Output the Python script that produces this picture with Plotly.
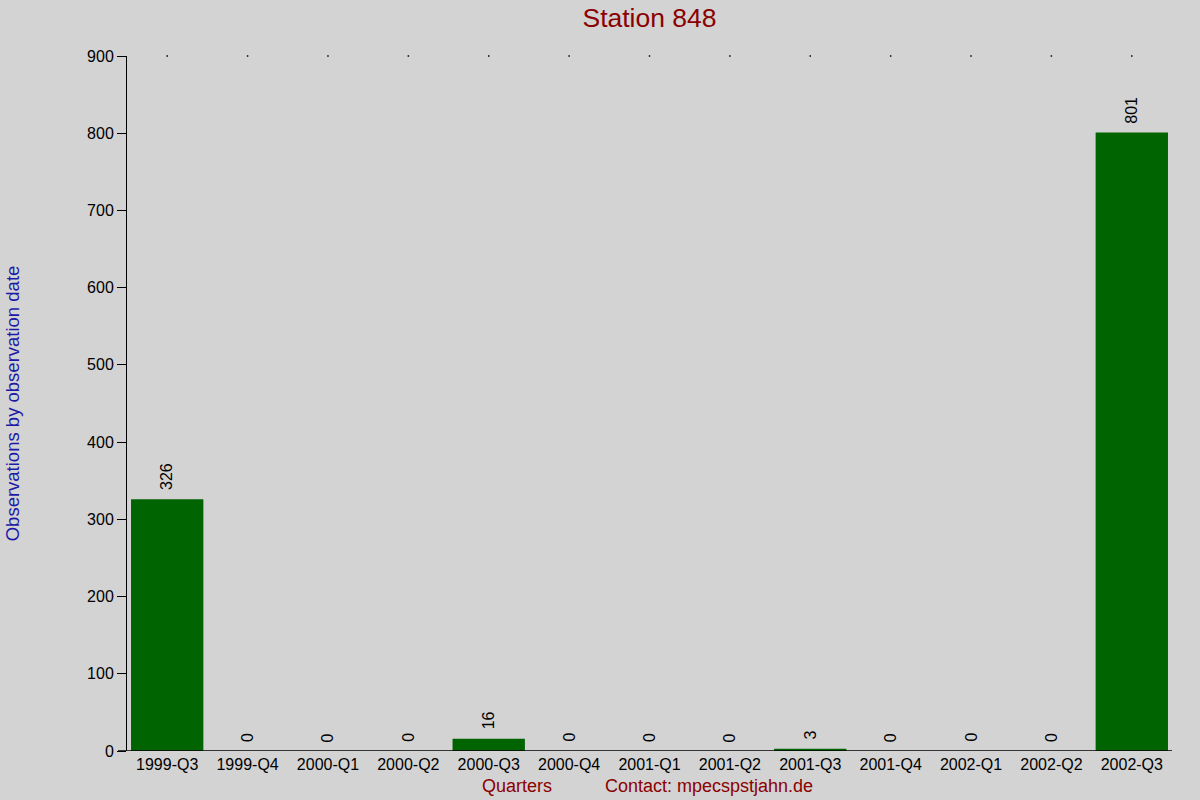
import plotly.graph_objects as go

categories = ["1999-Q3", "1999-Q4", "2000-Q1", "2000-Q2", "2000-Q3", "2000-Q4",
              "2001-Q1", "2001-Q2", "2001-Q3", "2001-Q4", "2002-Q1", "2002-Q2", "2002-Q3"]
values = [326, 0, 0, 0, 16, 0, 0, 0, 3, 0, 0, 0, 801]
y_ticks = [0, 100, 200, 300, 400, 500, 600, 700, 800, 900]

FONT = "Liberation Sans, Arial, sans-serif"

fig = go.Figure()
fig.add_trace(go.Bar(
    x=categories, y=values,
    marker=dict(color="#006400", line=dict(width=0)),
    width=0.9,
    hoverinfo="x+y",
))
# small dots marking category centres at the top of the plot
fig.add_trace(go.Scatter(
    x=categories, y=[y_ticks[-1]] * len(categories),
    mode="markers", marker=dict(size=1.5, color="black", symbol="square"),
    hoverinfo="skip", cliponaxis=False,
))

annotations = [
    dict(x=c, y=v, xref="x", yref="y", text=str(v), textangle=-90,
         xanchor="center", yanchor="bottom", yshift=7, showarrow=False,
         font=dict(family=FONT, size=16, color="black"))
    for c, v in zip(categories, values)
]
annotations += [
    dict(text="Quarters", xref="paper", yref="paper", x=(517 - 127) / 1045,
         y=-35 / 695, xanchor="center", yanchor="middle", showarrow=False,
         font=dict(family=FONT, size=18, color="#8b0000")),
    dict(text="Contact: mpecspstjahn.de", xref="paper", yref="paper",
         x=(603 - 127) / 1045, y=-35 / 695, xanchor="left", yanchor="middle",
         showarrow=False, font=dict(family=FONT, size=18, color="#8b0000")),
]

fig.update_layout(
    width=1200, height=800,
    paper_bgcolor="#d3d3d3", plot_bgcolor="#d3d3d3",
    margin=dict(l=127, r=28, t=56, b=49),
    showlegend=False,
    font=dict(family=FONT, color="black"),
    title=dict(text="Station 848", x=649.5 / 1200, xanchor="center",
               y=1 - 18 / 800, yanchor="middle",
               font=dict(family=FONT, size=26.5, color="#8b0000")),
    xaxis=dict(
        type="category", range=[-0.5, len(categories) - 0.5],
        showgrid=False, zeroline=False,
        showline=False, ticks="", tickfont=dict(family=FONT, size=16, color="black"),
        ticklabelstandoff=2,
    ),
    yaxis=dict(
        range=[0, 900], tickvals=y_ticks, showgrid=False, zeroline=False,
        showline=True, linecolor="black", linewidth=1,
        ticks="outside", ticklen=9, tickcolor="black",
        tickfont=dict(family=FONT, size=16, color="black"),
        title=dict(text="Observations by observation date",
                   font=dict(family=FONT, size=18.5, color="#1a1aa8"), standoff=62),
    ),
    shapes=[dict(type="line", xref="paper", yref="y", x0=-9 / 1045, x1=1, y0=0, y1=0,
                 line=dict(color="black", width=1.3))],
    annotations=annotations,
)

fig.write_html("out.html", config={"displayModeBar": False},
               post_script="document.body.style.margin='0';document.body.style.padding='0';")
